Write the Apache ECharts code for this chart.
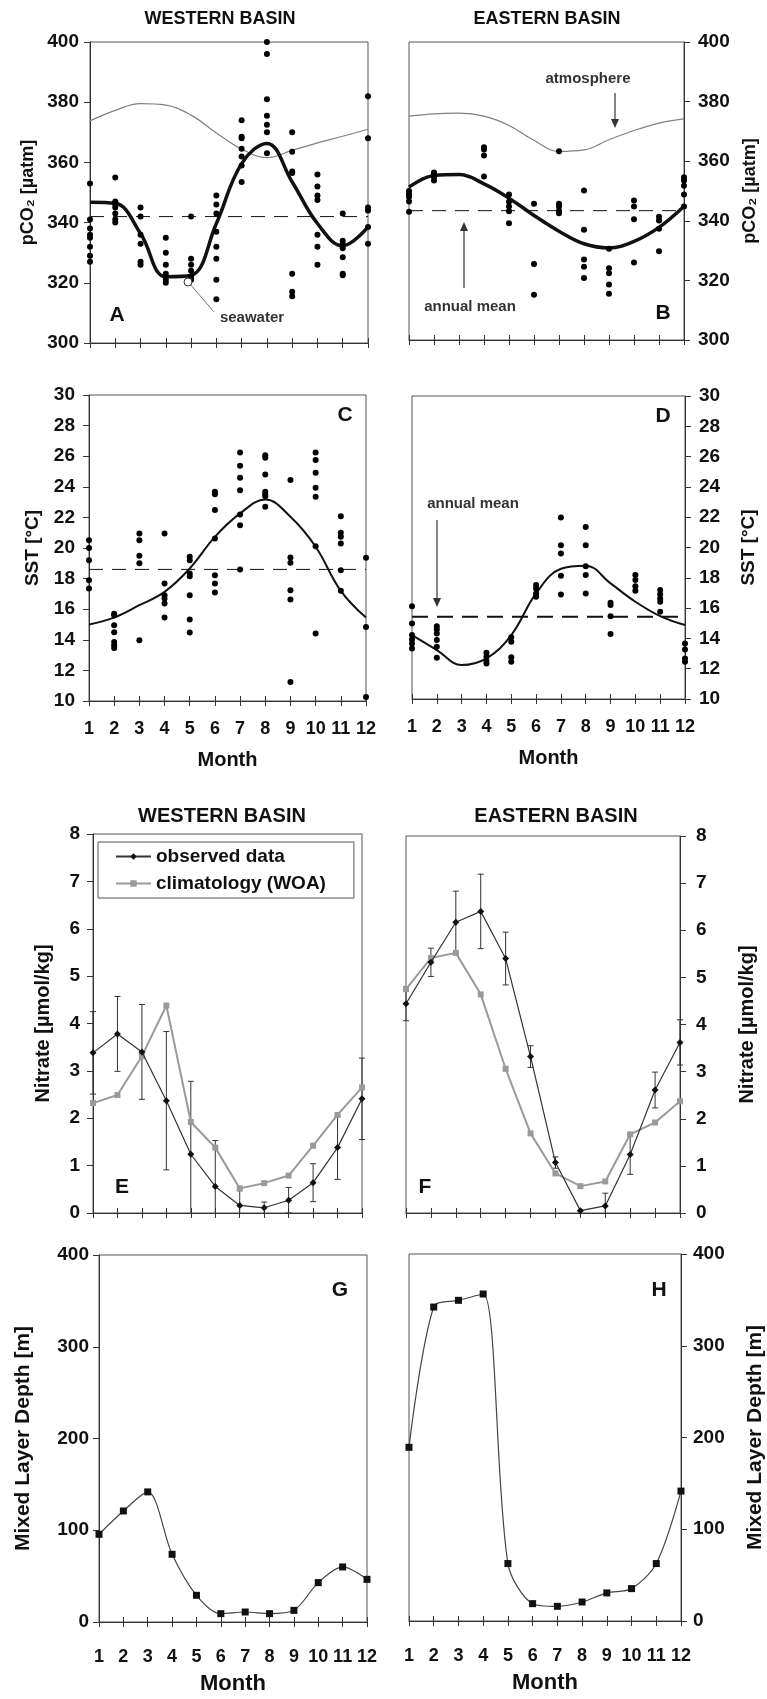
<!DOCTYPE html>
<html>
<head>
<meta charset="utf-8">
<script src="https://cdn.jsdelivr.net/npm/echarts@6/dist/echarts.min.js"></script>
<style>
  html, body { margin: 0; padding: 0; background: #fff; }
  #chart { width: 767px; height: 1699px; }
</style>
</head>
<body>
<div id="chart"></div>
<script>
const months = [1, 2, 3, 4, 5, 6, 7, 8, 9, 10, 11, 12]

// axis ranges [min, max, interval]
const pco2Range = [300, 400, 20]
const sstRange = [10, 30, 2]
const nitrateRange = [0, 8, 1]
const mldRange = [0, 400, 100]

// A: pCO2, western basin (points per month)
const pco2WestObs = [
  [353, 341, 338, 336, 335, 332, 329, 327],
  [355, 347, 346, 345, 343, 341, 340],
  [345, 342, 336, 333, 327, 326],
  [335, 330, 326, 323, 321, 320],
  [342, 328, 326, 324, 322, 321],
  [349, 346, 343, 337, 332, 328, 321, 314.5],
  [374, 368.5, 368, 364.5, 362, 359, 353.5],
  [400, 396, 381, 375.5, 372.5, 370, 363],
  [370, 363.5, 357, 356.5, 323, 317, 315.5],
  [356, 352, 349, 347.5, 336, 332, 326],
  [343, 334, 333, 331.5, 328.5, 323, 322.5],
  [382, 368, 345, 344, 338.5, 333]
]
const pco2WestFit = [346.8, 346.4, 336.4, 322, 322.5, 339.7, 359.6, 366.3, 353.5, 339.7, 332.3, 338.6]
const pco2WestAtm = [373.8, 377.3, 379.5, 379, 375.7, 369.8, 364.4, 361.6, 364, 366.5, 368.7, 371]
const pco2WestMean = 342

// B: pCO2, eastern basin
const pco2EastObs = [
  [350, 349, 348, 346.5, 343],
  [356.2, 355.5, 354.6, 353.5],
  [],
  [364.7, 363.9, 361.9, 354.9],
  [348.8, 346.4, 344.8, 343.2, 339.2],
  [345.7, 325.5, 315.2],
  [363.3, 345.7, 344.8, 343.4, 342.5],
  [350.2, 337, 327, 324.6, 320.8],
  [330.6, 324.1, 322.4, 318.6, 315.5],
  [346.8, 344.8, 340.5, 326],
  [341.4, 340.1, 337.3, 329.8],
  [354.6, 353.5, 351.8, 348.8, 344.8]
]
const pco2EastFit = [351.3, 355.2, 355.5, 352.4, 347.6, 341.8, 336.5, 332.3, 330.9, 333.1, 337.8, 344.9]
const pco2EastAtm = [375.1, 375.9, 376.1, 375.1, 372, 367, 363.3, 363.8, 367.2, 370.3, 372.8, 374.2]
const pco2EastMean = 343.4

// C: SST, western basin
const sstWestObs = [
  [20.5, 20.0, 19.2, 17.9, 17.35],
  [15.7, 15.6, 14.95, 14.5, 13.86, 13.64, 13.47],
  [20.95, 20.5, 19.5, 19.0, 13.97],
  [20.95, 17.68, 16.91, 16.7, 16.37, 15.45],
  [19.42, 19.2, 18.33, 18.16, 16.91, 15.32, 14.47],
  [23.67, 23.52, 22.48, 20.62, 18.22, 17.68, 17.09],
  [26.25, 25.38, 24.59, 23.78, 22.19, 21.49, 18.59],
  [26.07, 25.9, 24.81, 23.67, 23.52, 23.39, 22.69],
  [24.44, 19.38, 19.03, 17.24, 16.63, 11.24],
  [26.25, 25.75, 24.92, 23.94, 23.35, 20.12, 14.41],
  [22.08, 20.99, 20.73, 20.29, 18.55, 17.2],
  [19.36, 14.84, 10.26]
]
const sstWestFit = [15.0, 15.45, 16.26, 17.13, 18.66, 20.73, 22.26, 23.17, 22.04, 20.08, 17.2, 15.45]
const sstWestMean = 18.6

// D: SST, eastern basin
const sstEastObs = [
  [16.13, 14.99, 14.22, 13.93, 13.67, 13.34],
  [14.81, 14.59, 14.33, 13.89, 13.45, 12.73],
  [],
  [13.05, 12.79, 12.51, 12.35],
  [14.07, 13.78, 12.75, 12.46],
  [17.52, 17.3, 16.97, 16.75],
  [21.98, 20.15, 19.6, 18.13, 16.9],
  [21.36, 20.15, 18.77, 18.18, 16.97],
  [16.35, 16.2, 15.47, 14.29],
  [18.18, 17.85, 17.45, 17.14],
  [17.19, 16.92, 16.64, 16.42, 15.76],
  [13.67, 13.27, 12.68, 12.46]
]
const sstEastFit = [14.22, 13.23, 12.24, 12.68, 14.22, 16.97, 18.6, 18.8, 17.63, 16.42, 15.47, 14.88]
const sstEastMean = 15.43

// E, F: nitrate (observed mean +- error, WOA climatology)
const nitrateWestObs = [3.38, 3.78, 3.40, 2.37, 1.24, 0.56, 0.16, 0.11, 0.27, 0.64, 1.38, 2.41]
const nitrateWestErr = [0.87, 0.79, 1.0, 1.46, 1.54, 0.97, 0.31, 0.12, 0.27, 0.4, 0.67, 0.86]
const nitrateWestWoa = [2.32, 2.49, 3.31, 4.38, 1.92, 1.38, 0.52, 0.63, 0.79, 1.42, 2.07, 2.65]
const nitrateEastObs = [4.44, 5.32, 6.17, 6.40, 5.40, 3.32, 1.07, 0.05, 0.15, 1.24, 2.61, 3.62]
const nitrateEastErr = [0.36, 0.3, 0.66, 0.79, 0.56, 0.23, 0.12, 0, 0.27, 0.42, 0.38, 0.48]
const nitrateEastWoa = [4.75, 5.41, 5.52, 4.64, 3.06, 1.69, 0.84, 0.57, 0.67, 1.67, 1.92, 2.37]

// G, H: mixed layer depth
const mldWest = [95.6, 121, 141.8, 73.8, 29.1, 9.1, 10.9, 9.1, 12.7, 42.9, 60, 46.5]
const mldEast = [189.3, 342.2, 349.5, 356.4, 62.6, 18.9, 16, 20.7, 30.6, 35.3, 62.6, 141.6]

const font = "'Liberation Sans', Arial, sans-serif"
const ink = '#111'
const axisColor = '#333'

const grids = [
  { left: 90, top: 42, width: 278, height: 301 },
  { left: 409, top: 42, width: 275, height: 298 },
  { left: 89, top: 395, width: 277, height: 306 },
  { left: 412, top: 396, width: 273, height: 303 },
  { left: 93, top: 834, width: 269, height: 379 },
  { left: 406, top: 836, width: 274, height: 377 },
  { left: 99, top: 1255, width: 268, height: 367 },
  { left: 409, top: 1254, width: 272, height: 367 },
].map((g) => ({ ...g, show: true, borderColor: '#555', borderWidth: 1, backgroundColor: 'transparent' }))

const monthAxes = (gi, showLabels, labelMargin, nameGap, nameSize) => [
  {
    type: 'value', gridIndex: gi, position: 'bottom', min: 1, max: 12, interval: 1,
    axisLine: { show: true, lineStyle: { color: axisColor, width: 1 } },
    axisTick: { show: true, inside: false, length: 5, lineStyle: { color: axisColor } },
    axisLabel: { show: showLabels, color: ink, fontSize: 18, fontWeight: 'bold', fontFamily: font, margin: labelMargin },
    splitLine: { show: false },
    name: showLabels ? 'Month' : '',
    nameLocation: 'middle',
    nameGap,
    nameTextStyle: { color: ink, fontSize: nameSize, fontWeight: 'bold', fontFamily: font },
  },
  {
    type: 'value', gridIndex: gi, position: 'bottom', min: 1, max: 12, interval: 1,
    axisLine: { show: false },
    axisTick: { show: true, inside: true, length: 5, lineStyle: { color: axisColor } },
    axisLabel: { show: false },
    splitLine: { show: false },
  },
]

const valueAxis = (gi, range, side, name, nameGap, nameSize, labelMargin) => ({
  type: 'value', gridIndex: gi, position: side,
  min: range[0], max: range[1], interval: range[2],
  axisLine: { show: true, lineStyle: { color: axisColor, width: 1 } },
  axisTick: { show: true, inside: false, length: 6, lineStyle: { color: axisColor } },
  axisLabel: { color: ink, fontSize: 19, fontWeight: 'bold', fontFamily: font, margin: labelMargin },
  splitLine: { show: false },
  name,
  nameLocation: 'middle',
  nameRotate: 90,
  nameGap,
  nameTextStyle: { color: ink, fontSize: nameSize, fontWeight: 'bold', fontFamily: font },
})

const flatten = (obs) => obs.flatMap((vals, i) => vals.map((v) => [months[i], v]))
const pairs = (vals) => vals.map((v, i) => [months[i], v])

const scatterSeries = (gi, obs) => ({
  type: 'scatter', xAxisIndex: 2 * gi, yAxisIndex: gi,
  symbol: 'circle', symbolSize: 6,
  itemStyle: { color: '#000', opacity: 1 },
  data: flatten(obs), z: 4,
})
const lineSeries = (gi, vals, color, width, smooth, extra = {}) => ({
  type: 'line', xAxisIndex: 2 * gi, yAxisIndex: gi,
  showSymbol: false, smooth,
  lineStyle: { color, width },
  data: pairs(vals), z: 3,
  ...extra,
})
const meanSeries = (gi, mean, width, dash) => ({
  type: 'line', xAxisIndex: 2 * gi, yAxisIndex: gi,
  showSymbol: false,
  lineStyle: { color: ink, width, type: dash },
  data: [[months[0], mean], [months[11], mean]], z: 2,
})
const errorSeries = (gi, vals, errs) => ({
  type: 'custom', xAxisIndex: 2 * gi, yAxisIndex: gi, silent: true, z: 2,
  data: vals.map((v, i) => [months[i], v - errs[i], v + errs[i]]),
  renderItem(params, api) {
    const x = api.value(0)
    const lo = api.coord([x, api.value(1)])
    const hi = api.coord([x, api.value(2)])
    const bottom = params.coordSys.y + params.coordSys.height
    const yLo = Math.min(lo[1], bottom)
    const st = { stroke: '#333', lineWidth: 1 }
    const kids = [
      { type: 'line', shape: { x1: lo[0], y1: yLo, x2: hi[0], y2: hi[1] }, style: st },
      { type: 'line', shape: { x1: hi[0] - 3, y1: hi[1], x2: hi[0] + 3, y2: hi[1] }, style: st },
    ]
    if (lo[1] <= bottom) kids.push({ type: 'line', shape: { x1: lo[0] - 3, y1: lo[1], x2: lo[0] + 3, y2: lo[1] }, style: st })
    return { type: 'group', children: kids }
  },
})
const nitrateSeries = (gi, obs, errs, woa) => [
  errorSeries(gi, obs, errs),
  {
    name: 'climatology (WOA)', type: 'line', xAxisIndex: 2 * gi, yAxisIndex: gi,
    symbol: 'rect', symbolSize: 6, itemStyle: { color: '#9a9a9a' },
    lineStyle: { color: '#9a9a9a', width: 2 }, data: pairs(woa), z: 3,
  },
  {
    name: 'observed data', type: 'line', xAxisIndex: 2 * gi, yAxisIndex: gi,
    symbol: 'diamond', symbolSize: 7, itemStyle: { color: ink },
    lineStyle: { color: '#333', width: 1.2 }, data: pairs(obs), z: 4,
  },
]
const mldSeries = (gi, vals) => ({
  type: 'line', xAxisIndex: 2 * gi, yAxisIndex: gi,
  symbol: 'rect', symbolSize: 7, smooth: 0.3,
  itemStyle: { color: ink }, lineStyle: { color: '#444', width: 1.2 },
  data: pairs(vals), z: 3,
})

const text = (str, x, y, size, extra = {}) => ({
  type: 'text', x, y, z: 100,
  style: { text: str, font: `bold ${size}px ${font}`, fill: ink, align: 'center', verticalAlign: 'middle', ...extra },
})
const arrow = (x1, y1, x2, y2) => {
  const dir = Math.sign(y2 - y1)
  return {
    type: 'group', z: 100,
    children: [
      { type: 'line', shape: { x1, y1, x2, y2: y2 - dir * 6 }, style: { stroke: '#333', lineWidth: 1.2 } },
      { type: 'polygon', shape: { points: [[x2 - 4, y2 - dir * 9], [x2 + 4, y2 - dir * 9], [x2, y2]] }, style: { fill: '#333' } },
    ],
  }
}

const chart = echarts.init(document.getElementById('chart'), null, { renderer: 'canvas' })
chart.setOption({
  animation: false,
  backgroundColor: '#fff',
  grid: grids,
  xAxis: [
    ...monthAxes(0, false, 10, 30, 20),
    ...monthAxes(1, false, 10, 30, 20),
    ...monthAxes(2, true, 19, 49, 20),
    ...monthAxes(3, true, 19, 49, 20),
    ...monthAxes(4, false, 10, 30, 20),
    ...monthAxes(5, false, 10, 30, 20),
    ...monthAxes(6, true, 26, 51, 22),
    ...monthAxes(7, true, 26, 51, 22),
  ],
  yAxis: [
    valueAxis(0, pco2Range, 'left', 'pCO₂ [µatm]', 53, 18, 11),
    valueAxis(1, pco2Range, 'right', 'pCO₂ [µatm]', 57, 18, 14),
    valueAxis(2, sstRange, 'left', 'SST [°C]', 47, 19, 14),
    valueAxis(3, sstRange, 'right', 'SST [°C]', 54, 19, 14),
    valueAxis(4, nitrateRange, 'left', 'Nitrate [µmol/kg]', 40, 20, 13),
    valueAxis(5, nitrateRange, 'right', 'Nitrate [µmol/kg]', 57, 20, 16),
    valueAxis(6, mldRange, 'left', 'Mixed Layer Depth [m]', 65, 21, 10),
    valueAxis(7, mldRange, 'right', 'Mixed Layer Depth [m]', 64, 21, 12),
  ],
  legend: {
    data: ['observed data', 'climatology (WOA)'],
    orient: 'vertical', left: 98, top: 842,
    borderColor: '#555', borderWidth: 1, borderRadius: 0,
    padding: [5, 28, 5, 17], itemGap: 8,
    itemWidth: 35, itemHeight: 8,
    textStyle: { color: ink, fontSize: 19, fontWeight: 'bold', fontFamily: font },
    selectedMode: false,
  },
  series: [
    meanSeries(0, pco2WestMean, 1, [14, 9]),
    lineSeries(0, pco2WestAtm, '#808080', 1.2, 0.4),
    lineSeries(0, pco2WestFit, ink, 3.5, 0.4),
    scatterSeries(0, pco2WestObs),

    meanSeries(1, pco2EastMean, 1, [14, 9]),
    lineSeries(1, pco2EastAtm, '#808080', 1.2, 0.4),
    lineSeries(1, pco2EastFit, ink, 3.5, 0.4),
    scatterSeries(1, pco2EastObs),

    meanSeries(2, sstWestMean, 1, [14, 9]),
    lineSeries(2, sstWestFit, ink, 2, 0.4),
    scatterSeries(2, sstWestObs),

    meanSeries(3, sstEastMean, 2, [16, 9]),
    lineSeries(3, sstEastFit, ink, 2, 0.4),
    scatterSeries(3, sstEastObs),

    ...nitrateSeries(4, nitrateWestObs, nitrateWestErr, nitrateWestWoa),
    ...nitrateSeries(5, nitrateEastObs, nitrateEastErr, nitrateEastWoa),

    mldSeries(6, mldWest),
    mldSeries(7, mldEast),
  ],
  graphic: [
    text('WESTERN BASIN', 220, 19, 18),
    text('EASTERN BASIN', 547, 19, 18),
    text('WESTERN BASIN', 222, 816, 20),
    text('EASTERN BASIN', 556, 816, 20),
    text('A', 117, 315, 21),
    text('B', 663, 313, 21),
    text('C', 345, 415, 21),
    text('D', 663, 416, 21),
    text('E', 122, 1187, 21),
    text('F', 425, 1187, 21),
    text('G', 340, 1290, 21),
    text('H', 659, 1290, 21),
    // seawater pointer
    { type: 'line', z: 100, shape: { x1: 190, y1: 284, x2: 214, y2: 312 }, style: { stroke: '#777', lineWidth: 1 } },
    { type: 'circle', z: 100, shape: { cx: 188, cy: 282, r: 4 }, style: { fill: '#fff', stroke: '#333', lineWidth: 1 } },
    text('seawater', 252, 318, 15, { fill: '#333' }),
    // atmosphere / annual mean arrows
    text('atmosphere', 588, 79, 15, { fill: '#333' }),
    arrow(615, 93, 615, 128),
    text('annual mean', 470, 307, 15, { fill: '#333' }),
    arrow(464, 288, 464, 222),
    text('annual mean', 473, 504, 15, { fill: '#333' }),
    arrow(437, 520, 437, 607),
  ],
})
</script>
</body>
</html>
